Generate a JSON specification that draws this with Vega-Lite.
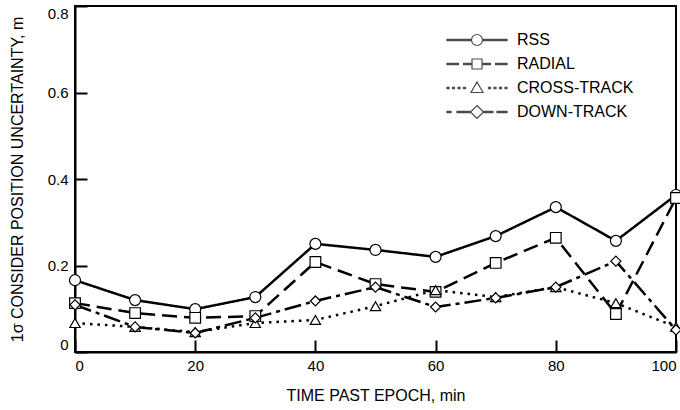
{
  "$schema": "https://vega.github.io/schema/vega-lite/v6.json",
  "autosize": "none",
  "width": 601,
  "height": 346,
  "padding": {"left": 75, "top": 6, "right": 4, "bottom": 58},
  "background": "white",
  "config": {
    "view": {"stroke": "black", "strokeWidth": 2},
    "axis": {"labelColor": "black", "labelFont": "Liberation Sans", "labelFontSize": 15, "titleColor": "black", "titleFont": "Liberation Sans", "titleFontSize": 16, "titleFontWeight": "normal"}
  },
  "data": {
    "values": [
      {"t": 0, "series": "RSS", "value": 0.166},
      {"t": 10, "series": "RSS", "value": 0.12},
      {"t": 20, "series": "RSS", "value": 0.099},
      {"t": 30, "series": "RSS", "value": 0.127},
      {"t": 40, "series": "RSS", "value": 0.25},
      {"t": 50, "series": "RSS", "value": 0.236},
      {"t": 60, "series": "RSS", "value": 0.22},
      {"t": 70, "series": "RSS", "value": 0.268},
      {"t": 80, "series": "RSS", "value": 0.335},
      {"t": 90, "series": "RSS", "value": 0.257},
      {"t": 100, "series": "RSS", "value": 0.363},
      {"t": 0, "series": "RADIAL", "value": 0.113},
      {"t": 10, "series": "RADIAL", "value": 0.09},
      {"t": 20, "series": "RADIAL", "value": 0.079},
      {"t": 30, "series": "RADIAL", "value": 0.083},
      {"t": 40, "series": "RADIAL", "value": 0.208},
      {"t": 50, "series": "RADIAL", "value": 0.157},
      {"t": 60, "series": "RADIAL", "value": 0.139},
      {"t": 70, "series": "RADIAL", "value": 0.206},
      {"t": 80, "series": "RADIAL", "value": 0.264},
      {"t": 90, "series": "RADIAL", "value": 0.088},
      {"t": 100, "series": "RADIAL", "value": 0.356},
      {"t": 0, "series": "CROSS-TRACK", "value": 0.067},
      {"t": 10, "series": "CROSS-TRACK", "value": 0.058},
      {"t": 20, "series": "CROSS-TRACK", "value": 0.046},
      {"t": 30, "series": "CROSS-TRACK", "value": 0.067},
      {"t": 40, "series": "CROSS-TRACK", "value": 0.074},
      {"t": 50, "series": "CROSS-TRACK", "value": 0.106},
      {"t": 60, "series": "CROSS-TRACK", "value": 0.143},
      {"t": 70, "series": "CROSS-TRACK", "value": 0.127},
      {"t": 80, "series": "CROSS-TRACK", "value": 0.15},
      {"t": 90, "series": "CROSS-TRACK", "value": 0.113},
      {"t": 100, "series": "CROSS-TRACK", "value": 0.058},
      {"t": 0, "series": "DOWN-TRACK", "value": 0.109},
      {"t": 10, "series": "DOWN-TRACK", "value": 0.058},
      {"t": 20, "series": "DOWN-TRACK", "value": 0.044},
      {"t": 30, "series": "DOWN-TRACK", "value": 0.079},
      {"t": 40, "series": "DOWN-TRACK", "value": 0.118},
      {"t": 50, "series": "DOWN-TRACK", "value": 0.15},
      {"t": 60, "series": "DOWN-TRACK", "value": 0.104},
      {"t": 70, "series": "DOWN-TRACK", "value": 0.125},
      {"t": 80, "series": "DOWN-TRACK", "value": 0.15},
      {"t": 90, "series": "DOWN-TRACK", "value": 0.21},
      {"t": 100, "series": "DOWN-TRACK", "value": 0.051}
    ]
  },
  "resolve": {"scale": {"shape": "independent", "size": "independent"}},
  "layer": [
    {
      "mark": {"type": "line", "color": "black", "strokeWidth": 2.5},
      "encoding": {
        "x": {"field": "t", "type": "quantitative", "scale": {"domain": [0, 100], "nice": false},
          "axis": {"orient": "bottom", "values": [0, 20, 40, 60, 80, 100], "grid": false, "domain": true, "domainColor": "black", "domainWidth": 2, "ticks": true, "tickColor": "black", "tickWidth": 2, "tickSize": -12, "labelPadding": 18,
            "labelAlign": {"condition": [{"test": "datum.value === 100", "value": "right"}, {"test": "datum.value === 0", "value": "left"}], "value": "center"},
            "title": "TIME PAST EPOCH, min", "titlePadding": 14}},
        "y": {"field": "value", "type": "quantitative", "scale": {"domain": [0, 0.8], "nice": false},
          "axis": {"orient": "left", "values": [0, 0.2, 0.4, 0.6, 0.8], "grid": false, "domain": true, "domainColor": "black", "domainWidth": 2, "ticks": true, "tickColor": "black", "tickWidth": 2, "tickSize": -12, "labelPadding": 19,
            "labelBaseline": {"condition": [{"test": "datum.value === 0.8", "value": "top"}, {"test": "datum.value === 0", "value": "bottom"}], "value": "middle"},
            "format": ".1~f",
            "title": "1σ CONSIDER POSITION UNCERTAINTY, m", "titlePadding": 22}},
        "strokeDash": {"field": "series", "type": "nominal",
          "scale": {"domain": ["RSS", "RADIAL", "CROSS-TRACK", "DOWN-TRACK"], "range": [[1, 0], [15, 7], [2.5, 5], [17, 5, 4, 5]]},
          "legend": null}
      }
    },
    {
      "mark": {"type": "point", "filled": false, "fill": "white", "fillOpacity": 1, "stroke": "black", "strokeWidth": 1.2, "opacity": 1},
      "encoding": {
        "x": {"field": "t", "type": "quantitative"},
        "y": {"field": "value", "type": "quantitative"},
        "shape": {"field": "series", "type": "nominal",
          "scale": {"domain": ["RSS", "RADIAL", "CROSS-TRACK", "DOWN-TRACK"], "range": ["circle", "square", "triangle-up", "diamond"]}, "legend": null},
        "size": {"field": "series", "type": "nominal",
          "scale": {"domain": ["RSS", "RADIAL", "CROSS-TRACK", "DOWN-TRACK"], "range": [121, 100, 110, 150]}, "legend": null}
      }
    },
    {
      "transform": [{"filter": "false"}],
      "mark": {"type": "point", "color": "black", "strokeWidth": 1.2},
      "encoding": {
        "x": {"field": "t", "type": "quantitative"},
        "y": {"field": "value", "type": "quantitative"},
        "shape": {"field": "series", "type": "nominal",
          "scale": {"domain": ["RSS", "RADIAL", "CROSS-TRACK", "DOWN-TRACK"], "range": ["M-3,-0.06H-0.55V0.06H-3ZM0.55,-0.06H3V0.06H0.55ZM0.55,0A0.55,0.55,0,1,1,-0.55,0A0.55,0.55,0,1,1,0.55,0Z", "M-3,-0.06H-1.85V0.06H-3ZM-1.35,-0.06H-0.5V0.06H-1.35ZM0.5,-0.06H1.35V0.06H0.5ZM1.85,-0.06H3V0.06H1.85ZM-0.5,-0.5H0.5V0.5H-0.5Z", "M-3,-0.06H-2.8V0.06H-3ZM-2.45,-0.06H-2.25V0.06H-2.45ZM-1.9,-0.06H-1.7V0.06H-1.9ZM-1.35,-0.06H-1.15V0.06H-1.35ZM1.15,-0.06H1.35V0.06H1.15ZM1.7,-0.06H1.9V0.06H1.7ZM2.25,-0.06H2.45V0.06H2.25ZM2.8,-0.06H3V0.06H2.8ZM0,-0.6L0.6,0.45H-0.6Z", "M-3,-0.06H-2.6V0.06H-3ZM-2,-0.06H-0.65V0.06H-2ZM0.65,-0.06H1.6V0.06H0.65ZM2,-0.06H3V0.06H2ZM0,-0.65L0.65,0L0,0.65L-0.65,0Z"]},
          "legend": {"orient": "none", "legendX": 391, "legendY": 23, "title": null, "padding": 0, "labelFont": "Liberation Sans", "labelFontSize": 16, "labelColor": "black", "symbolSize": 400, "symbolStrokeWidth": 1.2, "symbolStrokeColor": "black", "symbolFillColor": "white", "labelOffset": 29, "rowPadding": 5}}
      }
    }
  ]
}
